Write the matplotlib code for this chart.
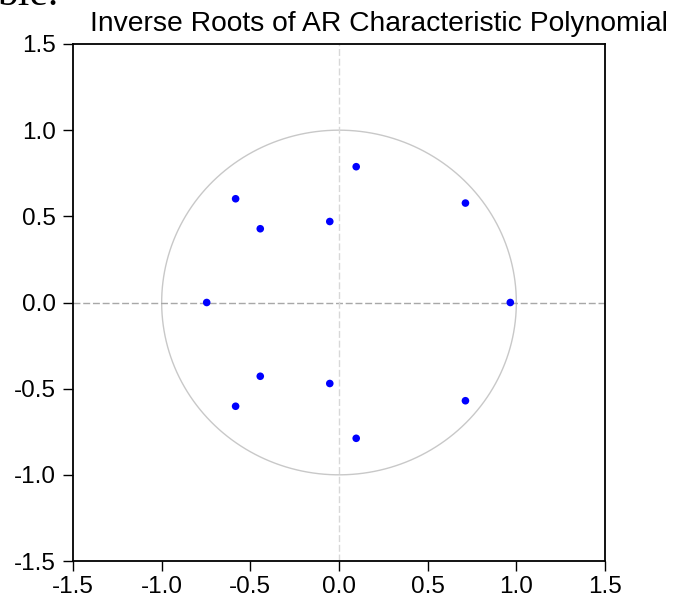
import numpy as np
import matplotlib
matplotlib.use("Agg")
import matplotlib.pyplot as plt

# inverse roots (conjugate pairs)
root_re = [0.097, 0.097, -0.583, -0.583, -0.444, -0.444, -0.052, -0.052,
           0.713, 0.713, -0.746, 0.966]
root_im = [0.788, -0.788, 0.602, -0.602, 0.428, -0.428, 0.470, -0.470,
           0.577, -0.570, 0.0, 0.0]
ticks = [-1.5, -1.0, -0.5, 0.0, 0.5, 1.0, 1.5]
title = "Inverse Roots of AR Characteristic Polynomial"

plt.rcParams['font.family'] = ['Liberation Sans', 'DejaVu Sans']

fig = plt.figure(figsize=(6.77, 5.96), dpi=100)
ax = fig.add_axes([73 / 677, 35 / 596, 532 / 677, 517 / 596])

# unit circle
theta = np.linspace(0, 2 * np.pi, 400)
ax.plot(np.cos(theta), np.sin(theta), color='#c8c8c8', linewidth=1.0, zorder=1)

# zero lines
ax.axhline(0, color='#a8a8a8', linestyle=(0, (5, 2)), linewidth=1.0, zorder=1)
ax.axvline(0, color='#d8d8d8', linestyle=(0, (5, 2)), linewidth=1.0, zorder=1)

ax.scatter(root_re, root_im, s=30, color='#0000ff', edgecolors='none', zorder=3)

ax.set_xlim(-1.5, 1.5)
ax.set_ylim(-1.5, 1.5)
ax.set_xticks(ticks)
ax.set_yticks(ticks)
ax.set_xticklabels([f"{t:.1f}" for t in ticks])
ax.set_yticklabels([f"{t:.1f}" for t in ticks])
ax.tick_params(direction='out', length=7.5, width=1.0, labelsize=17.5,
               top=False, right=False)
ax.tick_params(axis='y', pad=5)
ax.tick_params(axis='x', pad=3.5)
for sp in ax.spines.values():
    sp.set_linewidth(1.3)

fig.text(379 / 677, 1 - 24 / 596, title, ha='center', va='center', fontsize=20.3)
# cropped caption text at the very top
fig.text(-0.004, 1 - 5 / 596, "ble.", ha='left', va='baseline', fontsize=30,
         family='Liberation Serif')

fig.savefig('out.png', dpi=100)
